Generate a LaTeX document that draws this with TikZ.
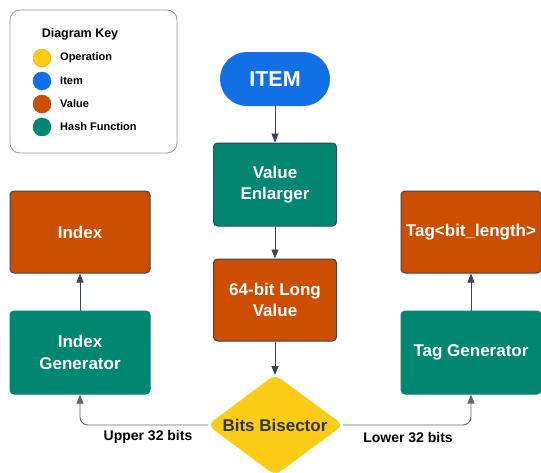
\documentclass[tikz,border=0pt]{standalone}
\usepackage{fontspec}
\setmainfont{Liberation Sans}
\usetikzlibrary{arrows.meta}
\definecolor{cyel}{HTML}{FDCC17}
\definecolor{cblue}{HTML}{1170E6}
\definecolor{corange}{HTML}{CC4E00}
\definecolor{cteal}{HTML}{008671}
\definecolor{cborder}{HTML}{3D4550}
\definecolor{cline}{HTML}{5F6670}
\definecolor{ckey}{HTML}{9A9A9A}
\tikzset{
  box/.style={rounded corners=4pt, minimum width=#1, align=center, text=white, font=\bfseries\fontsize{17}{21.5}\selectfont},
  valbox/.style={box=140pt, fill=corange, draw=cborder, line width=1pt, minimum height=82pt},
  hashbox/.style={box=140pt, fill=cteal, draw=cteal, line width=1pt, minimum height=83pt},
  arr/.style={draw=cborder, line width=0.9pt, -{Triangle[length=9pt,width=7pt]}},
  keydot/.style={circle, minimum size=18pt, inner sep=0pt, draw=#1!85!black, line width=0.4pt, fill=#1},
  keylbl/.style={anchor=west, font=\bfseries\fontsize{11}{13}\selectfont, inner sep=0pt},
  edgelbl/.style={font=\bfseries\fontsize{14}{16}\selectfont, inner sep=0pt}
}
\begin{document}
\begin{tikzpicture}[x=1pt,y=-1pt]
\useasboundingbox (0,0) rectangle (541,472);
\clip (0,0) rectangle (541,472);
% key
\node[draw=ckey, line width=0.8pt, rounded corners=10pt, minimum width=167pt, minimum height=143pt] (key) at (93.5,81.5) {};
\node[font=\bfseries\fontsize{12.5}{15}\selectfont, inner sep=0pt] (keyt) at (80,34) {Diagram Key};
\node[keydot=cyel] (k1) at (42,58) {};
\node[keydot=cblue] (k2) at (42,81) {};
\node[keydot=corange] (k3) at (42,104) {};
\node[keydot=cteal] (k4) at (42,127) {};
\node[keylbl] (l1) at (60,58) {Operation};
\node[keylbl] (l2) at (60,81) {Item};
\node[keylbl] (l3) at (60,104) {Value};
\node[keylbl] (l4) at (60,127) {Hash Function};
% main flow
\node[fill=cblue, rounded corners=27pt, minimum width=110pt, minimum height=54pt, text=white, font=\bfseries\fontsize{21.5}{25}\selectfont] (item) at (275,79) {ITEM};
\node[box=123pt, fill=cteal, draw=cborder, line width=1pt, minimum height=83pt] (enl) at (275,184.5) {Value\\Enlarger};
\node[box=123pt, fill=corange, draw=cborder, line width=1pt, minimum height=82pt] (long) at (275,300) {64-bit Long\\Value};
\draw[fill=cyel, draw=cyel, rounded corners=7pt] (275,375) -- (343,425) -- (275,475) -- (208,425) -- cycle;
\coordinate (bis) at (275,425);
\coordinate (bisT) at (275,375);
\coordinate (bisL) at (208,425);
\coordinate (bisR) at (343,425);
\node[text=cborder!80!black, font=\bfseries\fontsize{17}{20}\selectfont] (bistxt) at (275,425) {Bits Bisector};
% sides
\node[valbox] (idx) at (80,232) {Index};
\node[hashbox] (idxg) at (80,352.5) {Index\\Generator};
\node[valbox] (tag) at (471,232) {Tag<bit\_length>};
\node[hashbox] (tagg) at (471,352.5) {Tag Generator};
% connectors
\draw[arr] (item.south) -- (enl.north);
\draw[arr] (enl.south) -- (long.north);
\draw[arr] (long.south) -- (bisT);
\draw[arr] (idxg.north) -- (idx.south);
\draw[arr] (tagg.north) -- (tag.south);
\draw[arr, draw=cline, rounded corners=8pt] (bisL) -- (80,425) -- (idxg.south);
\draw[arr, draw=cline, rounded corners=8pt] (bisR) -- (471,425) -- (tagg.south);
\node[edgelbl] (up) at (148,437) {Upper 32 bits};
\node[edgelbl] (lo) at (408,437) {Lower 32 bits};
\end{tikzpicture}
\end{document}
